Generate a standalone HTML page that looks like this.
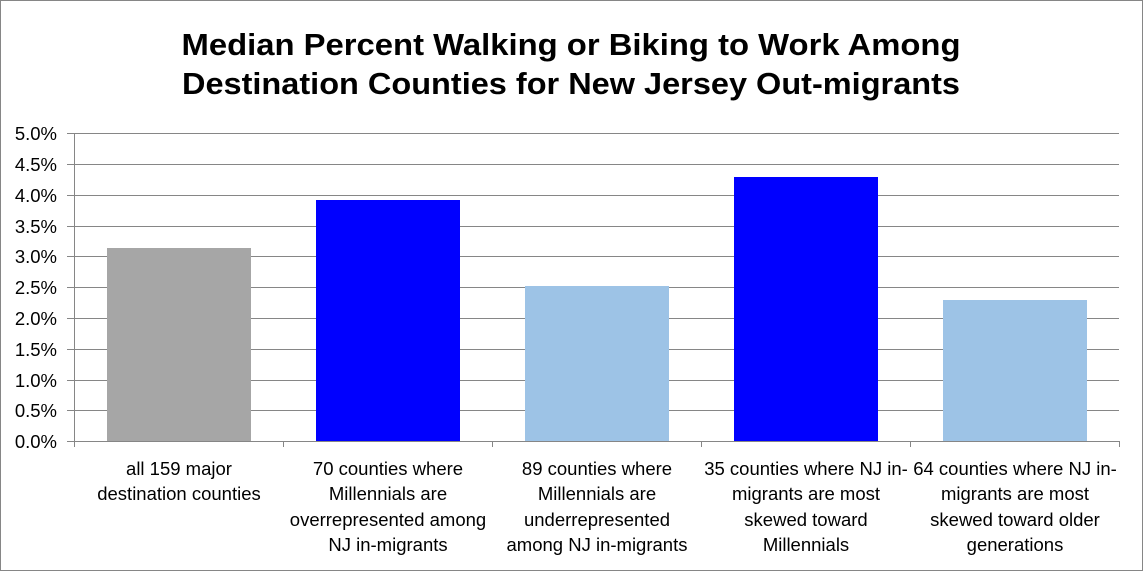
<!DOCTYPE html>
<html><head><style>
html,body{margin:0;padding:0;background:#fff;}
svg{display:block;}
</style></head><body>
<svg width="1143" height="571" xmlns="http://www.w3.org/2000/svg" font-family="Liberation Sans, sans-serif">
<rect x="0.5" y="0.5" width="1142" height="570" fill="#fff" stroke="#868686"/>
<text x="571" y="55" font-size="31" font-weight="bold" text-anchor="middle" textLength="779" lengthAdjust="spacingAndGlyphs">Median Percent Walking or Biking to Work Among</text>
<text x="571" y="94" font-size="31" font-weight="bold" text-anchor="middle" textLength="778" lengthAdjust="spacingAndGlyphs">Destination Counties for New Jersey Out-migrants</text>
<g stroke="#868686" stroke-width="1">
<line x1="67" y1="133.5" x2="1119" y2="133.5"/>
<line x1="67" y1="164.5" x2="1119" y2="164.5"/>
<line x1="67" y1="195.5" x2="1119" y2="195.5"/>
<line x1="67" y1="226.5" x2="1119" y2="226.5"/>
<line x1="67" y1="256.5" x2="1119" y2="256.5"/>
<line x1="67" y1="287.5" x2="1119" y2="287.5"/>
<line x1="67" y1="318.5" x2="1119" y2="318.5"/>
<line x1="67" y1="349.5" x2="1119" y2="349.5"/>
<line x1="67" y1="380.5" x2="1119" y2="380.5"/>
<line x1="67" y1="410.5" x2="1119" y2="410.5"/>
</g>
<rect x="107" y="248" width="144" height="193" fill="#a6a6a6"/>
<rect x="316" y="200" width="144" height="241" fill="#0000ff"/>
<rect x="525" y="286" width="144" height="155" fill="#9dc3e6"/>
<rect x="734" y="177" width="144" height="264" fill="#0000ff"/>
<rect x="943" y="300" width="144" height="141" fill="#9dc3e6"/>
<g stroke="#868686" stroke-width="1">
<line x1="74.5" y1="133" x2="74.5" y2="441"/>
<line x1="67" y1="441.5" x2="1119" y2="441.5"/>
<line x1="74.5" y1="441" x2="74.5" y2="447"/>
<line x1="283.5" y1="441" x2="283.5" y2="447"/>
<line x1="492.5" y1="441" x2="492.5" y2="447"/>
<line x1="701.5" y1="441" x2="701.5" y2="447"/>
<line x1="910.5" y1="441" x2="910.5" y2="447"/>
<line x1="1119.5" y1="441" x2="1119.5" y2="447"/>
</g>
<g font-size="18.5" text-anchor="end" fill="#000">
<text x="57" y="140">5.0%</text>
<text x="57" y="171">4.5%</text>
<text x="57" y="202">4.0%</text>
<text x="57" y="233">3.5%</text>
<text x="57" y="263">3.0%</text>
<text x="57" y="294">2.5%</text>
<text x="57" y="325">2.0%</text>
<text x="57" y="356">1.5%</text>
<text x="57" y="387">1.0%</text>
<text x="57" y="417">0.5%</text>
<text x="57" y="448">0.0%</text>
</g>
<g font-size="18.5" text-anchor="middle" fill="#000">
<text x="179" y="475">all 159 major</text>
<text x="179" y="500">destination counties</text>
<text x="388" y="475">70 counties where</text>
<text x="388" y="500">Millennials are</text>
<text x="388" y="526">overrepresented among</text>
<text x="388" y="551">NJ in-migrants</text>
<text x="597" y="475">89 counties where</text>
<text x="597" y="500">Millennials are</text>
<text x="597" y="526">underrepresented</text>
<text x="597" y="551">among NJ in-migrants</text>
<text x="806" y="475">35 counties where NJ in-</text>
<text x="806" y="500">migrants are most</text>
<text x="806" y="526">skewed toward</text>
<text x="806" y="551">Millennials</text>
<text x="1015" y="475">64 counties where NJ in-</text>
<text x="1015" y="500">migrants are most</text>
<text x="1015" y="526">skewed toward older</text>
<text x="1015" y="551">generations</text>
</g>
</svg>
</body></html>
